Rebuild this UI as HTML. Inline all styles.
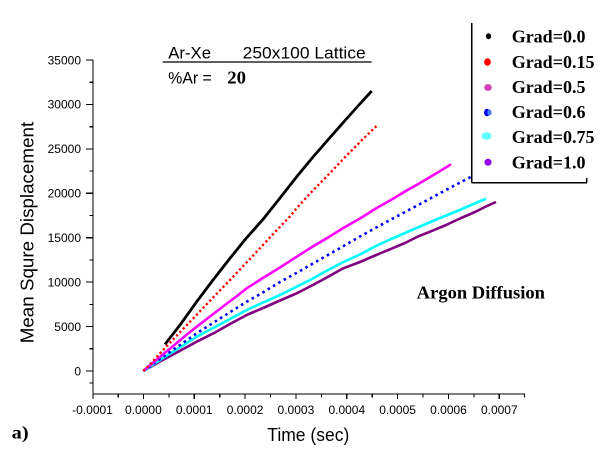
<!DOCTYPE html>
<html>
<head>
<meta charset="utf-8">
<style>
html,body{margin:0;padding:0;background:#fff;}
svg{display:block;}
.tk{font-family:"Liberation Sans",Arial,sans-serif;font-size:12px;fill:#000;}
.ax{font-family:"Liberation Sans",Arial,sans-serif;font-size:18px;fill:#000;}
.tt{font-family:"Liberation Sans",Arial,sans-serif;font-size:17px;fill:#000;}
.lg{font-family:"Liberation Serif","Times New Roman",serif;font-size:18px;font-weight:bold;fill:#000;}
</style>
</head>
<body>
<svg width="600" height="460" viewBox="0 0 600 460" xmlns="http://www.w3.org/2000/svg">
<rect width="600" height="460" fill="#fff"/>

<!-- Axes -->
<g stroke="#000" stroke-width="1.2" fill="none" shape-rendering="crispEdges">
  <line x1="93" y1="60" x2="93" y2="394"/>
  <line x1="93" y1="394" x2="525" y2="394"/>
  <!-- y major ticks -->
  <line x1="86" y1="60" x2="93" y2="60"/>
  <line x1="86" y1="104.4" x2="93" y2="104.4"/>
  <line x1="86" y1="148.9" x2="93" y2="148.9"/>
  <line x1="86" y1="193.3" x2="93" y2="193.3"/>
  <line x1="86" y1="237.7" x2="93" y2="237.7"/>
  <line x1="86" y1="282.1" x2="93" y2="282.1"/>
  <line x1="86" y1="326.6" x2="93" y2="326.6"/>
  <line x1="86" y1="371" x2="93" y2="371"/>
  <!-- y minor ticks -->
  <line x1="89.5" y1="82.2" x2="93" y2="82.2"/>
  <line x1="89.5" y1="126.7" x2="93" y2="126.7"/>
  <line x1="89.5" y1="171.1" x2="93" y2="171.1"/>
  <line x1="89.5" y1="215.5" x2="93" y2="215.5"/>
  <line x1="89.5" y1="259.9" x2="93" y2="259.9"/>
  <line x1="89.5" y1="304.4" x2="93" y2="304.4"/>
  <line x1="89.5" y1="348.8" x2="93" y2="348.8"/>
  <line x1="89.5" y1="383" x2="93" y2="383"/>
  <!-- x major ticks -->
  <line x1="93" y1="394" x2="93" y2="399"/>
  <line x1="143.4" y1="394" x2="143.4" y2="399"/>
  <line x1="194.2" y1="394" x2="194.2" y2="399"/>
  <line x1="245.1" y1="394" x2="245.1" y2="399"/>
  <line x1="295.9" y1="394" x2="295.9" y2="399"/>
  <line x1="346.8" y1="394" x2="346.8" y2="399"/>
  <line x1="397.6" y1="394" x2="397.6" y2="399"/>
  <line x1="448.5" y1="394" x2="448.5" y2="399"/>
  <line x1="499.3" y1="394" x2="499.3" y2="399"/>
  <!-- x minor ticks -->
  <line x1="118.3" y1="394" x2="118.3" y2="397.5"/>
  <line x1="169" y1="394" x2="169" y2="397.5"/>
  <line x1="219.8" y1="394" x2="219.8" y2="397.5"/>
  <line x1="270.5" y1="394" x2="270.5" y2="397.5"/>
  <line x1="321.4" y1="394" x2="321.4" y2="397.5"/>
  <line x1="372.2" y1="394" x2="372.2" y2="397.5"/>
  <line x1="423" y1="394" x2="423" y2="397.5"/>
  <line x1="473.9" y1="394" x2="473.9" y2="397.5"/>
  <line x1="524.5" y1="394" x2="524.5" y2="397.5"/>
</g>

<!-- y tick labels -->
<g class="tk" text-anchor="end">
  <text x="81" y="64.3">35000</text>
  <text x="81" y="108.7">30000</text>
  <text x="81" y="153.2">25000</text>
  <text x="81" y="197.6">20000</text>
  <text x="81" y="242">15000</text>
  <text x="81" y="286.4">10000</text>
  <text x="81" y="330.9">5000</text>
  <text x="81" y="375.3">0</text>
</g>
<!-- x tick labels -->
<g class="tk" text-anchor="middle">
  <text x="92.5" y="414">-0.0001</text>
  <text x="143.4" y="414">0.0000</text>
  <text x="194.2" y="414">0.0001</text>
  <text x="245.1" y="414">0.0002</text>
  <text x="295.9" y="414">0.0003</text>
  <text x="346.8" y="414">0.0004</text>
  <text x="397.6" y="414">0.0005</text>
  <text x="448.5" y="414">0.0006</text>
  <text x="499.3" y="414">0.0007</text>
</g>

<!-- axis titles -->
<text class="ax" x="267.3" y="441" textLength="82" lengthAdjust="spacingAndGlyphs">Time (sec)</text>
<text class="ax" transform="translate(33.5,343.3) rotate(-90)" x="0" y="0" textLength="221.5" lengthAdjust="spacingAndGlyphs">Mean Squre Displacement</text>

<!-- header text -->
<text class="tt" x="168.3" y="58.3" textLength="42.7" lengthAdjust="spacingAndGlyphs">Ar-Xe</text>
<text class="tt" x="242.7" y="58.3" textLength="123" lengthAdjust="spacingAndGlyphs">250x100 Lattice</text>
<line x1="162.7" y1="62" x2="371.7" y2="62" stroke="#000" stroke-width="1.3"/>
<text class="tt" x="168.3" y="83.3" textLength="43.4" lengthAdjust="spacingAndGlyphs">%Ar =</text>
<text class="lg" x="227.3" y="83.3" textLength="18.7" lengthAdjust="spacingAndGlyphs">20</text>

<!-- series -->
<g fill="none" stroke-linejoin="round">
  <!-- purple Grad=1.0 -->
  <polyline stroke="#800080" stroke-width="2.6" points="143.3,371 160,361.5 175,353.5 196.7,341.7 215,332.5 230,324 246.7,315 262,308.5 280,300.5 296.7,293.3 310,286.5 325,278.5 343.3,268.3 360,262 375,255.5 390,249.3 405,243 418,236.5 430,231.7 445,225.5 460,218.5 475,212 486,206.5 496,202"/>
  <!-- cyan Grad=0.75 -->
  <polyline stroke="#00ffff" stroke-width="2.6" points="143.3,371 160,360 175,350.5 196.7,336.7 215,327 230,319 246.7,310 262,303 280,295 296.7,286.7 312,279 328,270 343.3,262 360,254.5 375,246.5 390,239.5 405,233 420,226.5 440,218 455,212 470,205.5 486,198.7"/>
  <!-- blue Grad=0.6 dotted -->
  <polyline stroke="#0000ff" stroke-width="2.6" stroke-dasharray="2.6 3.6" points="143.3,371 170,352 196.7,333.3 220,318.5 246.7,301.7 262,293 280,282 300,271 320,259.5 336.7,250 360,236.5 390,220 420,204 445,190.5 469.3,177.7 497,163"/>
  <!-- magenta Grad=0.5 -->
  <polyline stroke="#ff00ff" stroke-width="2.6" points="143.3,371 158,358.5 172,347 185,336 196.7,326.7 210,316.5 225,305 237,296 246.7,288.3 262,278.5 280,267.5 296.7,256.7 312,247 328,237.5 343.3,228 360,218.5 375,209 390,200.5 405,191.5 420,183 436,173.5 451,164.3"/>
  <!-- red Grad=0.15 dotted -->
  <polyline stroke="#ff0000" stroke-width="2.4" stroke-dasharray="2.2 2.6" points="143.3,371 150,364.5 160,353.3 175,337.5 195,316.5 215,295.5 230,280 248,261 263,245 276,231 285,221.5 290,216.5 296,209 310,193.5 330,173 346.7,155.5 362,140 378.3,124.3"/>
  <!-- black Grad=0.0 -->
  <polyline stroke="#000000" stroke-width="2.8" points="165,344.3 180,325 196.7,301.7 213,280 230,258.3 246,238.5 263.3,219 280,198 296.7,176.7 313,157 330,137.5 345,120.5 358,106 371.7,91"/>
</g>

<!-- legend -->
<rect x="471.7" y="23" width="115.5" height="159.7" fill="#fff"/>
<g stroke="#000" stroke-width="1.3" fill="none" shape-rendering="crispEdges">
  <line x1="471.7" y1="23" x2="471.7" y2="182.7"/>
  <line x1="471.7" y1="182.7" x2="587" y2="182.7"/>
  <line x1="586.7" y1="178" x2="586.7" y2="182.7"/>
</g>
<g>
  <ellipse cx="488.5" cy="36.3" rx="2.6" ry="3" fill="#000"/>
  <ellipse cx="487.5" cy="62" rx="3.4" ry="3.8" fill="#ff0000"/>
  <ellipse cx="488" cy="87.5" rx="3.8" ry="3.4" fill="#d040c0"/>
  <ellipse cx="487" cy="112.5" rx="3" ry="3.8" fill="#0000ee"/>
  <ellipse cx="489.5" cy="112.5" rx="2.2" ry="3" fill="#4080ff"/>
  <ellipse cx="486.5" cy="136" rx="5.2" ry="3.8" fill="#66ffff"/>
  <ellipse cx="488" cy="162.3" rx="3.6" ry="3.5" fill="#9900ee"/>
</g>
<g class="lg">
  <text x="511.7" y="42.7">Grad=0.0</text>
  <text x="511.7" y="67.8">Grad=0.15</text>
  <text x="511.7" y="92.9">Grad=0.5</text>
  <text x="511.7" y="118">Grad=0.6</text>
  <text x="511.7" y="143.1">Grad=0.75</text>
  <text x="511.7" y="168.3">Grad=1.0</text>
</g>

<text class="lg" x="416.7" y="298.7" textLength="128.3" lengthAdjust="spacingAndGlyphs">Argon Diffusion</text>
<text class="lg" x="11.7" y="438.3" textLength="17" lengthAdjust="spacingAndGlyphs">a)</text>
</svg>
</body>
</html>
